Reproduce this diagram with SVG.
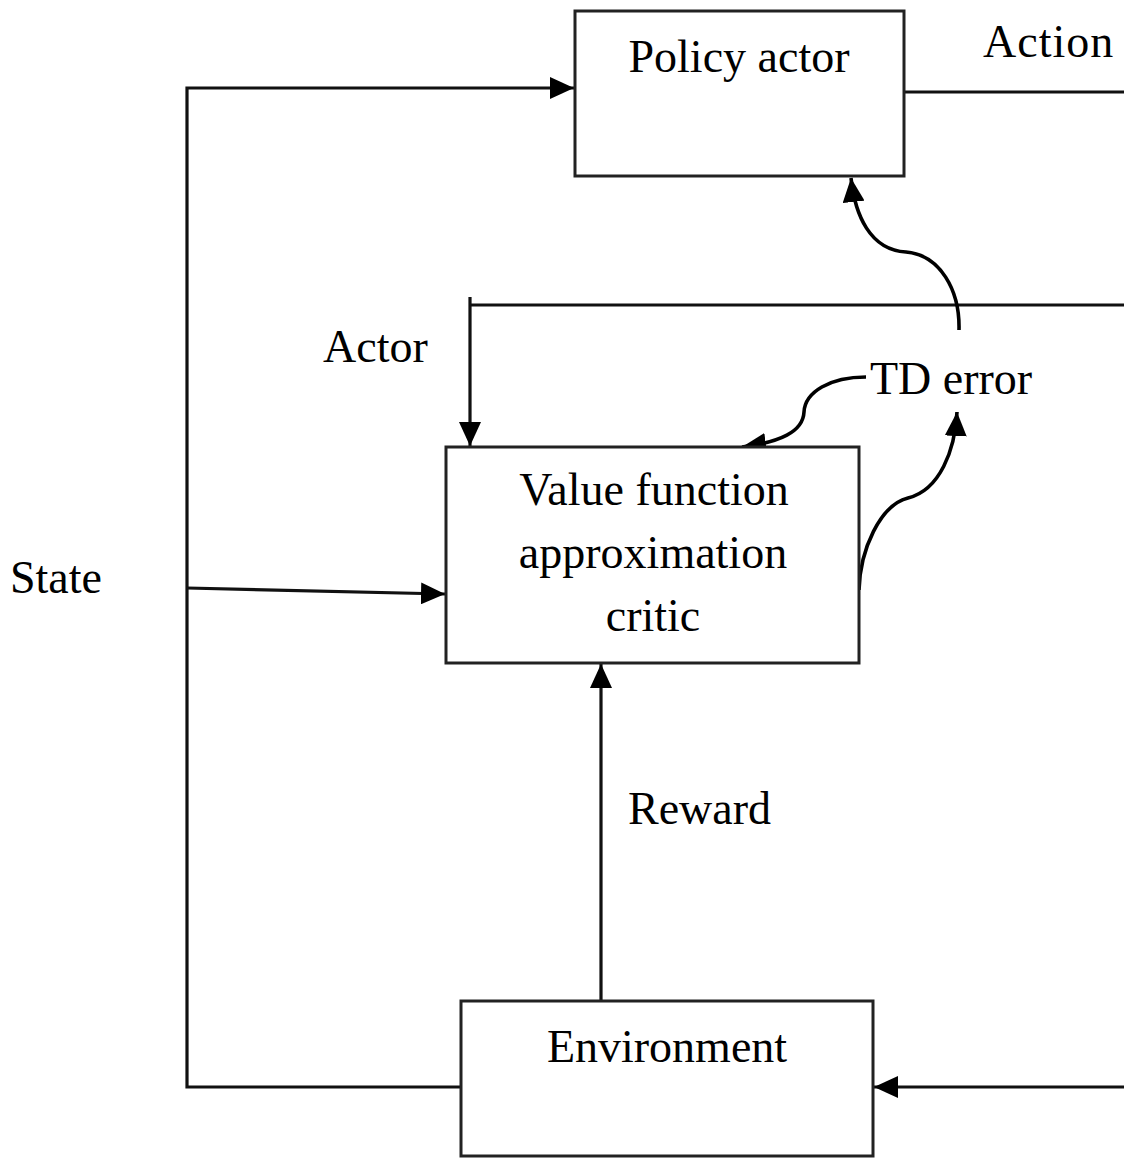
<svg xmlns="http://www.w3.org/2000/svg" width="1124" height="1158" viewBox="0 0 1124 1158">
  <style>
    .box { fill: #fff; stroke: #222; stroke-width: 3; }
    .wire { fill: none; stroke: #111; stroke-width: 3.2; }
    .curve { fill: none; stroke: #000; stroke-width: 3.6; }
    .lbl { font-family: "Liberation Serif", "Times New Roman", serif; font-size: 46px; fill: #000; }
    .mid { text-anchor: middle; }
  </style>
  <defs>
    <marker id="arrow" viewBox="0 0 24 22" refX="24" refY="11" markerWidth="24" markerHeight="22" markerUnits="userSpaceOnUse" orient="auto">
      <path d="M0,0 L24,11 L0,22 Z" fill="#000"/>
    </marker>
  </defs>

  <rect width="1124" height="1158" fill="#fff"/>

  <g id="connectors">
    <!-- state feedback loop -->
    <polyline class="wire" points="461,1087 187,1087 187,88 574,88" marker-end="url(#arrow)"/>
    <line class="wire" x1="187" y1="588" x2="445" y2="594" marker-end="url(#arrow)"/>
    <!-- action out of the policy actor -->
    <line class="wire" x1="904" y1="92" x2="1124" y2="92"/>
    <!-- actor feedback into the critic -->
    <line class="wire" x1="1124" y1="305" x2="470" y2="305"/>
    <line class="wire" x1="470" y1="297" x2="470" y2="446" marker-end="url(#arrow)"/>
    <!-- action into the environment -->
    <line class="wire" x1="1124" y1="1087" x2="874" y2="1087" marker-end="url(#arrow)"/>
    <!-- reward -->
    <line class="wire" x1="601" y1="1001" x2="601" y2="664" marker-end="url(#arrow)"/>
    <!-- TD error paths -->
    <path class="curve" d="M959,330 C960,290 940,255 906,252 C870,250 855,215 851,178" marker-end="url(#arrow)"/>
    <path class="curve" d="M866,377 C830,377 805,392 804,412 C803,432 780,442 742,447" marker-end="url(#arrow)"/>
    <path class="curve" d="M859,590 C860,550 880,505 908,498 C940,490 955,450 957,412" marker-end="url(#arrow)"/>
  </g>

  <g id="policy-actor">
    <rect class="box" x="575" y="11" width="329" height="165"/>
    <text class="lbl mid" x="739" y="72">Policy actor</text>
  </g>

  <g id="value-critic">
    <rect class="box" x="446" y="447" width="413" height="216"/>
    <text class="lbl mid" x="654" y="505">Value function</text>
    <text class="lbl mid" x="653" y="568">approximation</text>
    <text class="lbl mid" x="653" y="631">critic</text>
  </g>

  <g id="environment">
    <rect class="box" x="461" y="1001" width="412" height="155"/>
    <text class="lbl mid" x="667" y="1062">Environment</text>
  </g>

  <g id="labels">
    <text class="lbl" x="983" y="57" letter-spacing="1">Action</text>
    <text class="lbl" x="323" y="362">Actor</text>
    <text class="lbl" x="870" y="394">TD error</text>
    <text class="lbl" x="10" y="593">State</text>
    <text class="lbl" x="628" y="824">Reward</text>
  </g>
</svg>
